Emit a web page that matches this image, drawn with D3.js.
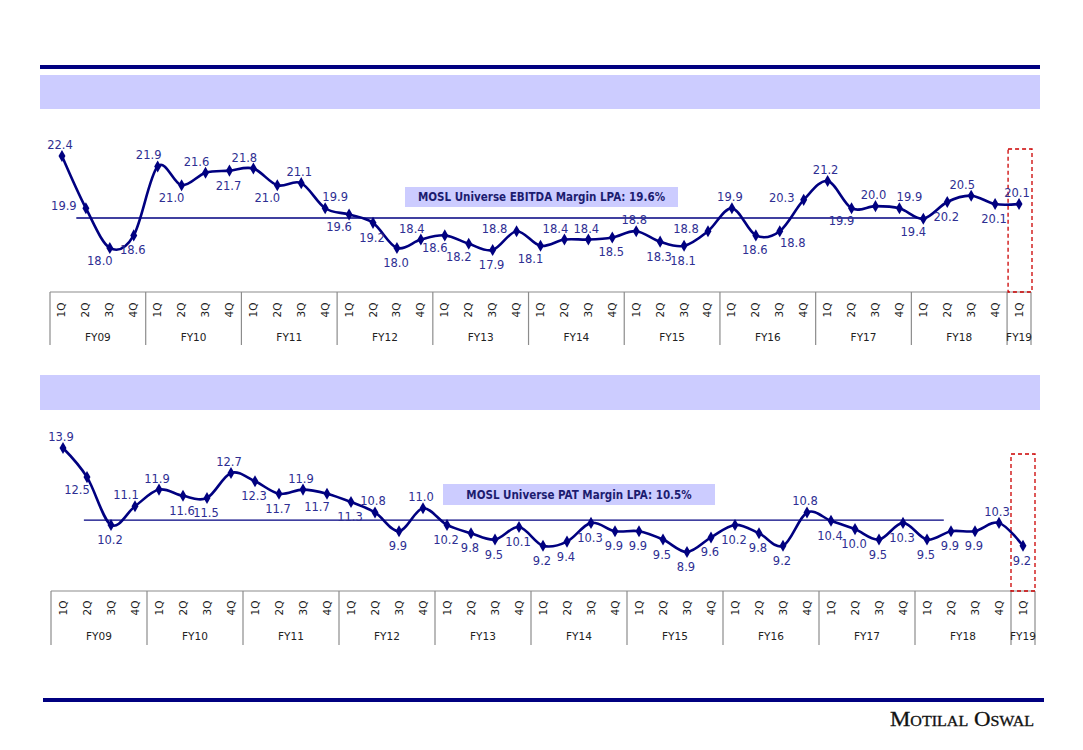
<!DOCTYPE html>
<html><head><meta charset="utf-8">
<script src="https://cdn.jsdelivr.net/npm/d3@7/dist/d3.min.js"></script>
<style>body{margin:0;background:#fff}svg{display:block}</style>
</head><body>
<svg id="c" width="1083" height="750"></svg>
<script>
// ---------------- data ----------------
const fiscalYears = ["FY09","FY10","FY11","FY12","FY13","FY14","FY15","FY16","FY17","FY18","FY19"];
const quarters = ["1Q","2Q","3Q","4Q"];
const ebitdaMargin = [22.4,19.9,18.0,18.6, 21.9,21.0,21.6,21.7, 21.8,21.0,21.1,19.9, 19.6,19.2,18.0,18.4,
  18.6,18.2,17.9,18.8, 18.1,18.4,18.4,18.5, 18.8,18.3,18.1,18.8, 19.9,18.6,18.8,20.3,
  21.2,19.9,20.0,19.9, 19.4,20.2,20.5,20.1, 20.1];
const patMargin = [13.9,12.5,10.2,11.1, 11.9,11.6,11.5,12.7, 12.3,11.7,11.9,11.7, 11.3,10.8,9.9,11.0,
  10.2,9.8,9.5,10.1, 9.2,9.4,10.3,9.9, 9.9,9.5,8.9,9.6, 10.2,9.8,9.2,10.8,
  10.4,10.0,9.5,10.3, 9.5,9.9,9.9,10.3, 9.2];
const ebitdaLPA = 19.6;
const patLPA = 10.5;
const ebitdaLPAText = "MOSL Universe EBITDA Margin  LPA: 19.6%";
const patLPAText = "MOSL Universe PAT Margin  LPA: 10.5%";
const brandName = "Motilal Oswal";
// label placement (a=above, b=below, l=left, al/ar/bl/br diagonal)
const ebitdaLabelSide = ["a","l","bl","b","al","bl","al","b","al","bl","a","ar","bl","b","b","al",
  "bl","bl","b","l","bl","al","a","b","a","b","b","l","a","b","br","l",
  "a","bl","a","ar","bl","b","al","b","a"];
const patLabelSide = ["a","bl","b","al","a","b","b","a","b","b","a","bl","b","a","b","a",
  "b","b","b","b","b","b","b","b","b","b","b","b","b","b","b","a",
  "b","b","b","b","b","b","b","a","b"];

// ---------------- drawing ----------------
const svg = d3.select("#c");
const NAVY = "#000080";
const LAV = "#ccccff";

// header decorations
svg.append("rect").attr("x",40).attr("y",65).attr("width",1000).attr("height",4).attr("fill",NAVY);
svg.append("rect").attr("x",40).attr("y",75).attr("width",1000).attr("height",34).attr("fill",LAV);
svg.append("rect").attr("x",40).attr("y",375).attr("width",1000).attr("height",35).attr("fill",LAV);
svg.append("rect").attr("x",43).attr("y",698).attr("width",1001).attr("height",4).attr("fill",NAVY);
svg.append("text").attr("x",1034).attr("y",726).attr("text-anchor","end")
  .attr("font-family","Liberation Serif, serif").attr("font-size",20)
  .attr("font-variant","small-caps").attr("fill","#111")
  .attr("stroke","#111").attr("stroke-width",0.3)
  .attr("textLength",144).attr("lengthAdjust","spacingAndGlyphs")
  .text(brandName);

const offsets = {
  a:[-2,-11], b:[-1,15], l:[-22,-2], r:[20,-2],
  al:[-9,-11], ar:[10,-11], bl:[-10,13], br:[13,12]
};

function drawPanel(cfg){
  const n = cfg.values.length;
  const cats = [];
  fiscalYears.forEach(fy => quarters.forEach(q => { if (cats.length < n) cats.push({fy, q}); }));
  const x = d3.scaleBand().domain(d3.range(n)).range([cfg.left, cfg.right]).padding(0);
  const bw = x.bandwidth();
  const xc = i => x(i) + bw/2;
  const xf = d3.scaleLinear().domain([0, n-1]).range([xc(0), xc(n-1)]);
  const y = d3.scaleLinear().domain(d3.extent(cfg.values)).range([cfg.yLow, cfg.yHigh]);
  const g = svg.append("g");

  // category axis frame
  g.append("line").attr("x1",cfg.left).attr("x2",cfg.right).attr("y1",cfg.axisTop).attr("y2",cfg.axisTop)
    .attr("stroke","#8c8c8c").attr("stroke-width",1.2);
  const bounds = [];
  for (let i = 0; i <= n; i += 4) bounds.push(i);
  if (bounds[bounds.length-1] !== n) bounds.push(n);
  bounds.forEach(i => {
    const xx = i < n ? x(i) : cfg.right;
    g.append("line").attr("x1",xx).attr("x2",xx).attr("y1",cfg.axisTop).attr("y2",cfg.axisBottom)
      .attr("stroke","#8c8c8c").attr("stroke-width",1.2);
  });
  cats.forEach((c,i) => {
    g.append("text").attr("transform",`translate(${xc(i)+3.5},${cfg.qY}) rotate(-90)`)
      .attr("text-anchor","middle").attr("font-family","DejaVu Sans, sans-serif")
      .attr("font-size",10.5).attr("fill","#222").text(c.q);
  });
  fiscalYears.forEach((fy,k) => {
    const i0 = k*4; if (i0 >= n) return;
    const i1 = Math.min(n, i0+4);
    const mid = (x(i0) + (i1 < n ? x(i1) : cfg.right))/2;
    g.append("text").attr("x",mid).attr("y",cfg.fyY).attr("text-anchor","middle")
      .attr("font-family","DejaVu Sans, sans-serif").attr("font-size",10.5)
      .attr("fill","#222").text(fy);
  });

  // LPA line
  g.append("line").attr("x1",xf(cfg.lpaFrom)).attr("x2",xf(cfg.lpaTo))
    .attr("y1",y(cfg.lpa)+cfg.lpaNudge).attr("y2",y(cfg.lpa)+cfg.lpaNudge)
    .attr("stroke",NAVY).attr("stroke-width",1.3);

  // LPA box
  g.append("rect").attr("x",cfg.box[0]).attr("y",cfg.box[1]).attr("width",cfg.box[2]).attr("height",cfg.box[3])
    .attr("fill",LAV);
  g.append("text").attr("x",cfg.box[0]+cfg.box[2]/2).attr("y",cfg.box[1]+cfg.box[3]/2)
    .attr("dominant-baseline","central").attr("text-anchor","middle")
    .attr("font-family","DejaVu Sans Condensed, DejaVu Sans, sans-serif").attr("font-weight","bold")
    .attr("font-size",11.5).attr("fill","#1c1c70").text(cfg.boxText);

  // red dashed box around latest quarter
  g.append("rect").attr("x",x(n-1)+cfg.redDx).attr("y",cfg.redTop).attr("width",bw)
    .attr("height",cfg.axisTop-cfg.redTop)
    .attr("fill","none").attr("stroke","#cc0000").attr("stroke-width",1.3).attr("stroke-dasharray","4,3");

  // smoothed line
  const line = d3.line().x((d,i)=>xc(i)).y(d=>y(d)).curve(d3.curveCatmullRom.alpha(0));
  g.append("path").datum(cfg.values).attr("d",line).attr("fill","none")
    .attr("stroke",NAVY).attr("stroke-width",2.6).attr("stroke-linejoin","round");
  g.selectAll(".mk").data(cfg.values).join("path")
    .attr("transform",(d,i)=>`translate(${xc(i)},${y(d)})`)
    .attr("d",d3.symbol(d3.symbolDiamond,42)).attr("fill",NAVY);

  // data labels
  g.selectAll(".lb").data(cfg.values).join("text")
    .attr("x",(d,i)=>xc(i)+offsets[cfg.sides[i]][0])
    .attr("y",(d,i)=>y(d)+offsets[cfg.sides[i]][1])
    .attr("dominant-baseline","central").attr("text-anchor","middle")
    .attr("font-family","DejaVu Sans, sans-serif").attr("font-size",11.5)
    .attr("fill","#2e2e92").text(d=>d.toFixed(1));
}

drawPanel({values: ebitdaMargin, sides: ebitdaLabelSide, lpa: ebitdaLPA, boxText: ebitdaLPAText,
  left:50, right:1031, yLow:250, yHigh:156, axisTop:292, axisBottom:345, qY:310, fyY:341,
  lpaFrom:0.6, lpaTo:36, lpaNudge:3.5, box:[405,187,273,20], redTop:149, redDx:1});
drawPanel({values: patMargin, sides: patLabelSide, lpa: patLPA, boxText: patLPAText,
  left:51, right:1035, yLow:552, yHigh:448, axisTop:591, axisBottom:645, qY:608, fyY:640,
  lpaFrom:0.87, lpaTo:36.7, lpaNudge:1.5, box:[443,484,272,21], redTop:454, redDx:0});
</script>
</body></html>
